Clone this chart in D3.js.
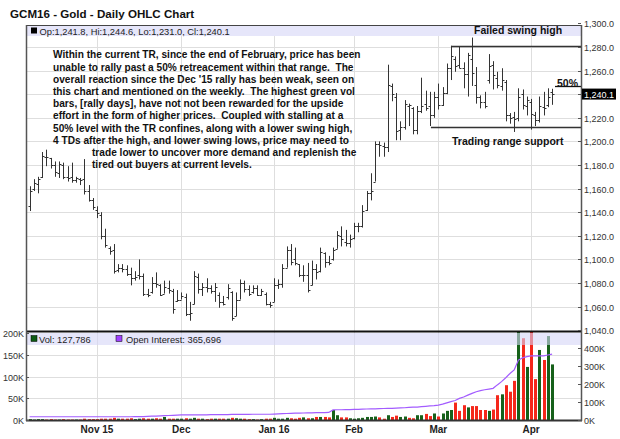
<!DOCTYPE html>
<html><head><meta charset="utf-8">
<script src="https://cdn.jsdelivr.net/npm/d3@7"></script>
<style>
body{margin:0;background:#fff;}
svg{display:block;font-family:"Liberation Sans",Arial,Helvetica,sans-serif;}
.pre{white-space:pre;}
</style>
</head><body>
<svg id="c" width="620" height="439"></svg>
<script>
// ---------------- DATA ----------------
const dates = [
"2015-10-09","2015-10-12","2015-10-13","2015-10-14","2015-10-15","2015-10-16","2015-10-19","2015-10-20","2015-10-21","2015-10-22","2015-10-23","2015-10-26","2015-10-27","2015-10-28","2015-10-29","2015-10-30",
"2015-11-02","2015-11-03","2015-11-04","2015-11-05","2015-11-06","2015-11-09","2015-11-10","2015-11-11","2015-11-12","2015-11-13","2015-11-16","2015-11-17","2015-11-18","2015-11-19","2015-11-20","2015-11-23","2015-11-24","2015-11-25","2015-11-27","2015-11-30",
"2015-12-01","2015-12-02","2015-12-03","2015-12-04","2015-12-07","2015-12-08","2015-12-09","2015-12-10","2015-12-11","2015-12-14","2015-12-15","2015-12-16","2015-12-17","2015-12-18","2015-12-21","2015-12-22","2015-12-23","2015-12-24","2015-12-28","2015-12-29","2015-12-30","2015-12-31",
"2016-01-04","2016-01-05","2016-01-06","2016-01-07","2016-01-08","2016-01-11","2016-01-12","2016-01-13","2016-01-14","2016-01-15","2016-01-19","2016-01-20","2016-01-21","2016-01-22","2016-01-25","2016-01-26","2016-01-27","2016-01-28","2016-01-29",
"2016-02-01","2016-02-02","2016-02-03","2016-02-04","2016-02-05","2016-02-08","2016-02-09","2016-02-10","2016-02-11","2016-02-12","2016-02-16","2016-02-17","2016-02-18","2016-02-19","2016-02-22","2016-02-23","2016-02-24","2016-02-25","2016-02-26","2016-02-29",
"2016-03-01","2016-03-02","2016-03-03","2016-03-04","2016-03-07","2016-03-08","2016-03-09","2016-03-10","2016-03-11","2016-03-14","2016-03-15","2016-03-16","2016-03-17","2016-03-18","2016-03-21","2016-03-22","2016-03-23","2016-03-24","2016-03-28","2016-03-29","2016-03-30","2016-03-31",
"2016-04-01","2016-04-04","2016-04-05","2016-04-06","2016-04-07","2016-04-08"];

const open = [1145,1160,1164,1170,1187,1186,1180,1173,1180,1170,1170,1167,1168,1168,1158,1150,
1142,1138,1120,1110,1108,1091,1093,1092,1088,1084,1087,1086,1071,1072,1080,1078,1071,1076,1073,1065,
1066,1068,1054,1062,1085,1075,1077,1076,1073,1070,1064,1068,1072,1052,1066,1080,1075,1072,1076,1070,1071,1062,
1064,1078,1079,1093,1108,1100,1096,1087,1087,1078,1092,1090,1105,1098,1100,1109,1120,1115,1114,
1118,1128,1128,1142,1156,1166,1198,1196,1195,1247,1238,1210,1212,1230,1228,1210,1226,1232,1230,1222,
1238,1231,1241,1262,1270,1265,1262,1257,1270,1248,1238,1233,1252,1265,1254,1247,1250,1222,1221,1220,1240,1230,
1233,1222,1218,1229,1231,1241.8];
const high = [1162,1168,1170,1191,1193,1186,1183,1183,1182,1179,1182,1170,1169,1185,1163,1152,
1145,1140,1126,1111,1113,1096,1096,1095,1093,1090,1100,1088,1075,1085,1089,1079,1082,1082,1075,1074,
1072,1071,1064,1090,1088,1080,1084,1078,1080,1072,1069,1079,1073,1072,1083,1082,1078,1078,1078,1075,1072,1064,
1084,1083,1096,1111,1113,1110,1096,1095,1097,1099,1096,1110,1106,1103,1110,1124,1128,1125,1121,
1131,1131,1146,1158,1173,1200,1200,1199,1265,1249,1241,1217,1235,1232,1229,1230,1254,1243,1242,1242,
1249,1246,1266,1281,1272,1280,1267,1275,1288,1263,1239,1242,1274,1268,1259,1262,1252,1224,1225,1245,1244,1238,
1236,1225,1238,1242,1245,1244.6];
const low = [1141,1158,1156,1169,1179,1177,1170,1169,1168,1166,1165,1165,1163,1155,1149,1142,
1135,1117,1110,1104,1088,1089,1089,1086,1078,1082,1083,1069,1068,1071,1076,1069,1071,1071,1054,1064,
1066,1052,1048,1062,1071,1069,1072,1071,1064,1059,1061,1066,1048,1052,1066,1072,1069,1071,1069,1069,1061,1059,
1064,1075,1076,1093,1095,1095,1085,1081,1072,1078,1083,1089,1093,1095,1099,1109,1111,1111,1110,
1117,1123,1127,1141,1150,1166,1187,1187,1191,1234,1201,1201,1210,1213,1206,1206,1224,1226,1213,1220,
1227,1230,1240,1252,1259,1262,1245,1238,1247,1232,1228,1228,1249,1244,1245,1243,1217,1215,1208,1217,1227,1222,
1210,1213,1216,1222,1229,1231.0];
const close = [1158,1165,1168,1188,1187,1180,1174,1181,1170,1169,1167,1169,1167,1158,1150,1144,
1139,1120,1112,1107,1090,1093,1092,1088,1084,1085,1086,1071,1070,1080,1079,1070,1077,1074,1058,1066,
1069,1054,1055,1086,1075,1077,1076,1073,1077,1064,1062,1076,1050,1066,1080,1075,1071,1076,1070,1073,1062,1061,
1078,1079,1093,1108,1098,1097,1087,1087,1074,1092,1089,1106,1098,1097,1108,1121,1117,1114,1117,
1128,1128,1141,1156,1158,1198,1197,1195,1248,1240,1209,1212,1232,1231,1210,1226,1230,1228,1222,1238,
1231,1241,1262,1272,1264,1262,1257,1273,1258,1238,1233,1230,1264,1256,1248,1252,1222,1220,1219,1238,1231,1235,
1223,1218,1230,1228,1238,1240.1];
// volume, thousands of contracts
const volume = [2,1,2,2,1,2,1,1,2,1,1,1,1,3,2,2,
2,3,3,3,5,3,3,3,4,2,3,4,3,3,4,3,7,3,3,3,
3,4,3,5,3,3,2,3,3,3,3,3,5,4,3,3,2,2,1,2,3,3,
5,3,3,5,4,3,5,6,4,4,7,7,7,6,23,11,6,6,4,
3,4,5,7,7,8,6,3,11,7,10,7,8,5,4,11,11,14,9,15,
8,15,21,23,40,21,34,29,32,32,23,23,21,24,57,59,80,65,90,260,188,122,
240,94,161,138,193,127.786];
// open interest, thousands of contracts
const openInterest = [18,18,18,18,18,18,18,18,18,18,18,18,18,18,18,18,
18,18,18,18,18,18,18,18,18,19,19,19,20,21,22,23,24,25,26,27,
28,28,28,29,29,29,29,30,30,30,30,30,31,31,31,31,31,32,32,32,32,32,
33,34,35,36,37,38,38,39,40,40,41,41,41,42,56,57,57,58,58,
59,59,60,61,62,62,63,64,65,65,66,67,68,70,71,72,74,76,78,80,
83,88,95,102,108,120,128,138,148,157,163,168,172,176,195,213,235,258,278,333,345,352,
356,356,357,356,361,365.696];

const priceTicks = [1040,1060,1080,1100,1120,1140,1160,1180,1200,1220,1240,1260,1280,1300];
const volTicksLeft = [0,50,100,150,200];
const oiTicksRight = [0,100,200,300,400];
const monthTickDates = ["2015-11-02","2015-12-01","2016-01-04","2016-02-01","2016-03-01","2016-04-01"];
const monthTickLabels = ["Nov 15","Dec","Jan 16","Feb","Mar","Apr"];
const noteLines = [
"Within the current TR, since the end of February, price has been",
"unable to rally past a 50% retreacement within that range.  The",
"overall reaction since the Dec '15 rally has been weak, seen on",
"this chart and mentioned on the weekly.  The highest green vol",
"bars, [rally days], have not not been rewarded for the upside",
"effort in the form of higher prices.  Coupled with stalling at a",
"50% level with the TR confines, along with a lower swing high,",
"4 TDs after the high, and lower swing lows, price may need to",
"trade lower to uncover more demand and replenish the",
"tired out buyers at current levels."];
const swingHigh = 1280.7, rangeSupport = 1212.6, fiftyPct = 1246.8;

// ---------------- LAYOUT ----------------
const svg = d3.select("#c");
const L = 26, R = 581, T = 25, MID = 331, B = 420;
const x = d3.scalePoint().domain(dates).range([29.6, 552.1]);
const yP = d3.scaleLinear().domain([1040,1300]).range([330.2, 23.4]);
const yV = d3.scaleLinear().domain([0,200]).range([B, 333]);
const yOI = d3.scaleLinear().domain([0,400]).range([B, 348]);
const grid = "#dedede";
const fmtP = d3.format(",.1f");

svg.append("text").attr("x",10).attr("y",18).attr("font-size",11.6).attr("font-weight","bold")
  .attr("fill","#111").text("GCM16 - Gold - Daily OHLC Chart");

const defs = svg.append("defs");
defs.append("clipPath").attr("id","pc").append("rect").attr("x",L).attr("y",T).attr("width",R-L).attr("height",MID-T);
defs.append("clipPath").attr("id","vc").append("rect").attr("x",L).attr("y",MID+1).attr("width",R-L).attr("height",B-MID-1);

// gridlines
svg.append("g").selectAll("line").data(priceTicks.filter(d=>d>1040 && d<1300)).join("line")
  .attr("x1",L).attr("x2",R).attr("y1",d=>Math.round(yP(d))+0.5).attr("y2",d=>Math.round(yP(d))+0.5)
  .attr("stroke",grid);
svg.append("g").selectAll("line").data(volTicksLeft.filter(d=>d>0 && d<200)).join("line")
  .attr("x1",L).attr("x2",R).attr("y1",d=>Math.round(yV(d))+0.5).attr("y2",d=>Math.round(yV(d))+0.5)
  .attr("stroke",grid);
svg.append("g").selectAll("line").data(monthTickDates).join("line")
  .attr("x1",d=>Math.round(x(d))+0.5).attr("x2",d=>Math.round(x(d))+0.5).attr("y1",T).attr("y2",B)
  .attr("stroke",grid);

// legend band (price)
svg.append("rect").attr("x",L+1).attr("y",T+1).attr("width",R-L-1).attr("height",10).attr("fill","#e6e6fa");
svg.append("rect").attr("x",31).attr("y",27.5).attr("width",6).attr("height",6).attr("fill","#000");
svg.append("text").attr("x",39.5).attr("y",34.5).attr("font-size",9.3).attr("fill","#222")
  .text(`Op:${fmtP(open[open.length-1])}, Hi:${fmtP(high[high.length-1])}, Lo:${fmtP(low[low.length-1])}, Cl:${fmtP(close[close.length-1])}`);

// OHLC bars
const bars = svg.append("g").attr("clip-path","url(#pc)").attr("stroke","#333").attr("stroke-width",1);
dates.forEach((d,i)=>{
  const cx = Math.round(x(d))+0.5;
  bars.append("line").attr("x1",cx).attr("x2",cx).attr("y1",yP(high[i])).attr("y2",yP(low[i]));
  bars.append("line").attr("x1",cx-2).attr("x2",cx).attr("y1",Math.round(yP(open[i]))+0.5).attr("y2",Math.round(yP(open[i]))+0.5);
  bars.append("line").attr("x1",cx).attr("x2",cx+2).attr("y1",Math.round(yP(close[i]))+0.5).attr("y2",Math.round(yP(close[i]))+0.5);
});

// annotation lines
const iSH = dates.indexOf("2016-03-04"), iRS = dates.indexOf("2016-02-26");
svg.append("line").attr("x1",x(dates[iSH])).attr("x2",R).attr("y1",Math.round(yP(swingHigh))+0.5).attr("y2",Math.round(yP(swingHigh))+0.5)
  .attr("stroke","#333").attr("stroke-width",1.3);
svg.append("line").attr("x1",x(dates[iRS])+1).attr("x2",R).attr("y1",Math.round(yP(rangeSupport))+0.5).attr("y2",Math.round(yP(rangeSupport))+0.5)
  .attr("stroke","#333").attr("stroke-width",1.3);
svg.append("line").attr("x1",555).attr("x2",R).attr("y1",Math.round(yP(fiftyPct))+0.5).attr("y2",Math.round(yP(fiftyPct))+0.5)
  .attr("stroke","#111").attr("stroke-width",1.3);

function txt(s,xx,yy){return svg.append("text").attr("x",xx).attr("y",yy).attr("font-size",10.5)
  .attr("font-weight","bold").attr("fill","#111").text(s);}
txt("Failed swing high",474,34);
txt("50%",557,86.5);
txt("Trading range support",452,145);
const note = svg.append("text").attr("class","pre").attr("font-size",10.15).attr("font-weight","bold").attr("fill","#111");
noteLines.forEach((s,i)=>note.append("tspan").attr("x",i<8?53:92).attr("y",58.3+i*12.2).text(s));

// volume + OI
const vg = svg.append("g").attr("clip-path","url(#vc)");
vg.selectAll("rect").data(dates).join("rect")
  .attr("x",d=>Math.round(x(d))-1).attr("width",3)
  .attr("y",(d,i)=>yV(volume[i])).attr("height",(d,i)=>B-yV(volume[i]))
  .attr("fill",(d,i)=> (i>0 && close[i]<close[i-1]) ? "#f5271b" : "#16611a");
vg.append("path").datum(dates).attr("fill","none").attr("stroke","#a35cff").attr("stroke-width",1.2)
  .attr("d",d3.line().x(d=>x(d)).y((d,i)=>yOI(openInterest[i])));
// volume legend band (semi transparent)
svg.append("rect").attr("x",L+1).attr("y",333).attr("width",R-L-1).attr("height",12).attr("fill","rgb(213,213,247)").attr("fill-opacity",0.6);
svg.append("rect").attr("x",31).attr("y",335.5).attr("width",6).attr("height",6).attr("fill","#0d5a12").attr("stroke","#000").attr("stroke-width",0.5);
svg.append("text").attr("x",39).attr("y",342.5).attr("font-size",9.3).attr("fill","#222").text(`Vol: ${d3.format(",")(Math.round(volume[volume.length-1]*1000))}`);
svg.append("rect").attr("x",116).attr("y",335.5).attr("width",6).attr("height",6).attr("fill","#a040ff").attr("stroke","#000").attr("stroke-width",0.5);
svg.append("text").attr("x",126).attr("y",342.5).attr("font-size",9.3).attr("fill","#222").text(`Open Interest: ${d3.format(",")(Math.round(openInterest[openInterest.length-1]*1000))}`);

// frames
svg.append("line").attr("x1",L).attr("x2",R).attr("y1",T+0.5).attr("y2",T+0.5).attr("stroke","#444");
svg.append("line").attr("x1",L).attr("x2",R+1).attr("y1",MID+0.5).attr("y2",MID+0.5).attr("stroke","#111").attr("stroke-width",2);
svg.append("line").attr("x1",L).attr("x2",R+1).attr("y1",B+0.5).attr("y2",B+0.5).attr("stroke","#333").attr("stroke-width",2);
svg.append("line").attr("x1",L+0.5).attr("x2",L+0.5).attr("y1",T).attr("y2",B+1).attr("stroke","#555").attr("stroke-width",1.5);
svg.append("line").attr("x1",R+0.5).attr("x2",R+0.5).attr("y1",T).attr("y2",B+1).attr("stroke","#555").attr("stroke-width",1.5);

// price axis (right)
const pa = svg.append("g").attr("font-size",9).attr("fill","#333");
priceTicks.forEach(p=>{
  const yy = Math.round(yP(p))+0.5;
  pa.append("line").attr("x1",R-3).attr("x2",R).attr("y1",yy).attr("y2",yy).attr("stroke","#555");
  pa.append("text").attr("x",584).attr("y",yy+3.5).text(fmtP(p));
});
// last price box
const lastY = yP(close[close.length-1]);
svg.append("rect").attr("x",582).attr("y",lastY-5.5).attr("width",34).attr("height",11).attr("fill","#000");
svg.append("text").attr("x",584).attr("y",lastY+3.5).attr("font-size",9).attr("fill","#fff").text(fmtP(close[close.length-1]));

// volume axes
const va = svg.append("g").attr("font-size",9).attr("fill","#333");
volTicksLeft.forEach(v=>{
  const yy = Math.round(yV(v))+0.5;
  va.append("line").attr("x1",L).attr("x2",L+3).attr("y1",yy).attr("y2",yy).attr("stroke","#555");
  va.append("text").attr("x",24).attr("y",yy+3.5).attr("text-anchor","end").text(v+"K");
});
oiTicksRight.forEach(v=>{
  const yy = Math.round(yOI(v))+0.5;
  va.append("line").attr("x1",R-3).attr("x2",R).attr("y1",yy).attr("y2",yy).attr("stroke","#555");
  va.append("text").attr("x",584).attr("y",yy+3.5).text(v+"K");
});

// month labels
svg.append("g").selectAll("text").data(monthTickDates).join("text")
  .attr("x",d=>x(d)).attr("y",433).attr("text-anchor","middle").attr("font-size",10).attr("font-weight","bold").attr("fill","#222")
  .text((d,i)=>monthTickLabels[i]);
</script>
</body></html>
